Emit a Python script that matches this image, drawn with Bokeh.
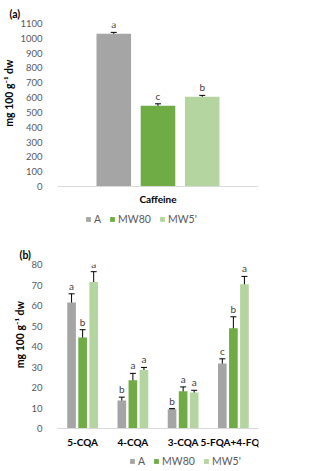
from bokeh.plotting import figure
from bokeh.models import (ColumnDataSource, FactorRange, Range1d, Whisker, TeeHead,
                          Legend, LegendItem, FixedTicker)
from bokeh.transform import dodge
from bokeh.layouts import column
from bokeh.embed import file_html
from bokeh.resources import INLINE
from bokeh.core.properties import value

# ---------------- data ----------------
series = ["A", "MW80", "MW5'"]
colors = ["#a5a5a5", "#6fac46", "#b4d5a0"]

cat_a = ["Caffeine"]
caf_A = [1031]
caf_MW80 = [545]
caf_MW5 = [605]
caf_err_A = [9]
caf_err_MW80 = [13]
caf_err_MW5 = [10]
caf_let_A = ["a"]
caf_let_MW80 = ["c"]
caf_let_MW5 = ["b"]

cat_b = ["5-CQA", "4-CQA", "3-CQA", "5-FQA+4-FQA"]
b_A = [61.5, 13.7, 9.4, 31.7]
b_MW80 = [44.4, 23.6, 18.2, 48.9]
b_MW5 = [71.5, 28.5, 17.6, 70.4]
b_err_A = [4.2, 1.6, 0.3, 2.3]
b_err_MW80 = [3.8, 3.3, 2.1, 5.6]
b_err_MW5 = [5.0, 1.3, 1.05, 3.8]
b_let_A = ["a", "b", "b", "c"]
b_let_MW80 = ["b", "a", "a", "b"]
b_let_MW5 = ["a", "a", "a", "a"]

ylabel = "mg 100 g\u207b\u00b9 dw"
FONT = "Lato"
offsets = [-0.22, 0.0, 0.22]
BAR_W = 0.172
W = 333


def make_panel(title, cats, vals, errs, lets, ymin, ymax, step, height, border_left,
               border_right, border_top, title_offset, legend_loc):
    p = figure(x_range=FactorRange(*cats), y_range=Range1d(ymin, ymax),
               width=W, height=height, output_backend="svg", toolbar_location=None,
               min_border_left=border_left, min_border_right=border_right,
               min_border_top=border_top, min_border_bottom=2,
               title=title)
    p.title.align = "left"
    p.title.offset = title_offset
    p.title.standoff = 8
    p.title.text_font = FONT
    p.title.text_font_size = "10.5px"
    p.title.text_font_style = "bold"
    p.title.text_color = "#000000"
    p.outline_line_color = None
    p.xgrid.grid_line_color = None
    p.ygrid.grid_line_color = None

    p.yaxis.ticker = FixedTicker(ticks=list(range(0, ymax + 1, step)))
    p.yaxis.axis_line_color = None
    p.yaxis.major_tick_line_color = None
    p.yaxis.minor_tick_line_color = None
    p.yaxis.major_label_text_font = FONT
    p.yaxis.major_label_text_font_size = "9.5px"
    p.yaxis.major_label_text_color = "#595959"
    p.yaxis.major_label_standoff = 9
    # leading no-break spaces lift the label to sit beside the value range
    p.yaxis.axis_label = "\u00a0" * 25 + ylabel
    p.yaxis.axis_label_text_font = FONT
    p.yaxis.axis_label_text_font_size = "10.5px"
    p.yaxis.axis_label_text_font_style = "bold"
    p.yaxis.axis_label_text_color = "#000000"
    p.yaxis.axis_label_standoff = 2

    p.xaxis.fixed_location = 0
    p.xaxis.axis_line_color = "#d9d9d9"
    p.xaxis.major_tick_line_color = None
    p.xaxis.minor_tick_line_color = None
    p.xaxis.major_label_text_font = FONT
    p.xaxis.major_label_text_font_size = "10px"
    p.xaxis.major_label_text_font_style = "bold"
    p.xaxis.major_label_text_color = "#000000"
    p.xaxis.major_label_standoff = 1

    items = []
    for i, s in enumerate(series):
        v = vals[i]
        e = errs[i]
        src = ColumnDataSource(dict(
            x=cats, top=v,
            upper=[a + b for a, b in zip(v, e)],
            lower=[a - b for a, b in zip(v, e)],
            letter=lets[i]))
        xd = dodge("x", offsets[i], range=p.x_range)
        r = p.vbar(x=xd, top="top", bottom=0, width=BAR_W, source=src,
                   fill_color=colors[i], line_color=None)
        p.add_layout(Whisker(source=src, base=xd, upper="upper", lower="lower",
                             line_color="#000000", line_width=1,
                             upper_head=TeeHead(size=6, line_color="#000000", line_width=1),
                             lower_head=TeeHead(size=6, line_color="#000000", line_width=1)))
        p.text(x=xd, y="upper", text="letter", source=src, text_align="center",
               text_baseline="bottom", y_offset=-2, text_font=value(FONT),
               text_font_size="10px", text_color="#404040")
        items.append(LegendItem(label=s, renderers=[r]))

    leg = Legend(items=items, orientation="horizontal", location=legend_loc,
                 glyph_width=6, glyph_height=6, label_standoff=3, spacing=8,
                 padding=0, margin=0, label_width=0, label_height=10,
                 border_line_color=None, background_fill_alpha=0,
                 label_text_font=FONT, label_text_font_size="10.5px",
                 label_text_color="#595959", label_text_baseline="middle")
    p.add_layout(leg)
    return p


p1 = make_panel("(a)", cat_a, [caf_A, caf_MW80, caf_MW5],
                [caf_err_A, caf_err_MW80, caf_err_MW5],
                [caf_let_A, caf_let_MW80, caf_let_MW5],
                -270, 1100, 100, 228, 52, 75, 23, -48, (28, 1))
p2 = make_panel("(b)", cat_b, [b_A, b_MW80, b_MW5],
                [b_err_A, b_err_MW80, b_err_MW5],
                [b_let_A, b_let_MW80, b_let_MW5],
                -19.5, 80, 10, 242, 43, 4, 36, -38, (72, 1))

layout = column(p1, p2)
open("out.html", "w").write(file_html(layout, INLINE))
